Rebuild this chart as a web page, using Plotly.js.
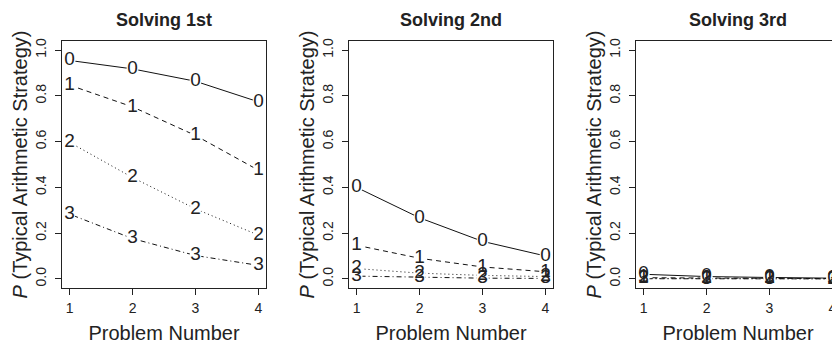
<!DOCTYPE html>
<html>
<head>
<meta charset="utf-8">
<script src="https://cdn.plot.ly/plotly-3.0.1.min.js"></script>
<style>
html, body { margin: 0; padding: 0; overflow: hidden; background: #fff; }
#chart { width: 861px; height: 344px; }
</style>
</head>
<body>
<div id="chart"></div>
<script>
// ---- data ----
const problemNumber = [1, 2, 3, 4];
const panelTitles = ["Solving 1st", "Solving 2nd", "Solving 3rd"];
const seriesLabels = ["0", "1", "2", "3"];
const xTickLabels = ["1", "2", "3", "4"];
const yTickValues = [0, 0.2, 0.4, 0.6, 0.8, 1.0];
const yTickLabels = ["0.0", "0.2", "0.4", "0.6", "0.8", "1.0"];

// Solving 1st
const first_0 = [0.955, 0.918, 0.864, 0.774];
const first_1 = [0.847, 0.752, 0.627, 0.475];
const first_2 = [0.597, 0.443, 0.306, 0.191];
const first_3 = [0.283, 0.176, 0.102, 0.059];
// Solving 2nd
const second_0 = [0.400, 0.267, 0.164, 0.100];
const second_1 = [0.147, 0.090, 0.052, 0.031];
const second_2 = [0.045, 0.025, 0.015, 0.010];
const second_3 = [0.012, 0.006, 0.003, 0.002];
// Solving 3rd
const third_0 = [0.020, 0.010, 0.006, 0.003];
const third_1 = [0.005, 0.003, 0.002, 0.001];
const third_2 = [0.002, 0.001, 0.0005, 0.0003];
const third_3 = [0.0005, 0.0002, 0.0001, 0.0001];

const panels = [
  [first_0, first_1, first_2, first_3],
  [second_0, second_1, second_2, second_3],
  [third_0, third_1, third_2, third_3]
];

// ---- styles ----
const FONT = "Liberation Sans, Arial, Helvetica, sans-serif";
const dashes = ["solid", "5px,4px", "1px,3px", "1px,3px,5px,3px"];
const W = 861, H = 344;
const panelLeft = [62, 349, 636];
const panelWidth = 204;
const plotTop = 41, plotBottom = 288;

const traces = [];
panels.forEach((series, p) => {
  const xa = p === 0 ? "x" : "x" + (p + 1);
  const ya = p === 0 ? "y" : "y" + (p + 1);
  // lines with white gaps at the points
  series.forEach((vals, s) => {
    traces.push({
      x: problemNumber, y: vals, xaxis: xa, yaxis: ya,
      type: "scatter", mode: "lines+markers",
      line: { color: "#111", width: 1, dash: dashes[s] },
      marker: { color: "#ffffff", size: 12, line: { width: 0 } },
      hoverinfo: "skip", showlegend: false, cliponaxis: false
    });
  });
  // character symbols
  series.forEach((vals, s) => {
    traces.push({
      x: problemNumber, y: vals, xaxis: xa, yaxis: ya,
      type: "scatter", mode: "text",
      text: problemNumber.map(() => seriesLabels[s]),
      textposition: "middle center",
      textfont: { family: FONT, size: 19, color: "#222" },
      hoverinfo: "skip", showlegend: false, cliponaxis: false
    });
  });
});

const layout = {
  width: W, height: H,
  margin: { l: 0, r: 0, t: 0, b: 0 },
  paper_bgcolor: "#fff", plot_bgcolor: "#fff",
  font: { family: FONT, color: "#222" },
  showlegend: false,
  annotations: []
};

panelTitles.forEach((t, p) => {
  const sfx = p === 0 ? "" : String(p + 1);
  const d0 = panelLeft[p] / W, d1 = (panelLeft[p] + panelWidth) / W;
  layout["xaxis" + sfx] = {
    domain: [d0, d1], anchor: "y" + sfx,
    range: [0.88, 4.12],
    tickvals: problemNumber, ticktext: xTickLabels,
    ticks: "outside", ticklen: 6, tickcolor: "#222", tickwidth: 1,
    ticklabelstandoff: 1,
    showline: true, mirror: true, linecolor: "#222", linewidth: 1,
    showgrid: false, zeroline: false,
    tickfont: { family: FONT, size: 14, color: "#222" },
    title: { text: "Problem Number", font: { family: FONT, size: 20, color: "#222" }, standoff: 11 }
  };
  layout["yaxis" + sfx] = {
    domain: [(H - plotBottom) / H, (H - plotTop) / H], anchor: "x" + sfx,
    range: [-0.04, 1.04],
    tickvals: yTickValues, ticktext: yTickLabels,
    tickangle: -90,
    ticks: "outside", ticklen: 6, tickcolor: "#222", tickwidth: 1,
    ticklabelstandoff: 3,
    showline: true, mirror: true, linecolor: "#222", linewidth: 1,
    showgrid: false, zeroline: false,
    tickfont: { family: FONT, size: 14, color: "#222" },
    title: { text: "<i>P</i> (Typical Arithmetic Strategy)", font: { family: FONT, size: 20, color: "#222" }, standoff: 0 }
  };
  layout.annotations.push({
    text: "<b>" + t + "</b>",
    xref: "x" + sfx + " domain", x: 0.5,
    yref: "paper", y: (H - 20) / H,
    xanchor: "center", yanchor: "middle",
    showarrow: false,
    font: { family: FONT, size: 18, color: "#222" }
  });
});

Plotly.newPlot("chart", traces, layout, { staticPlot: true, displayModeBar: false });
</script>
</body>
</html>
